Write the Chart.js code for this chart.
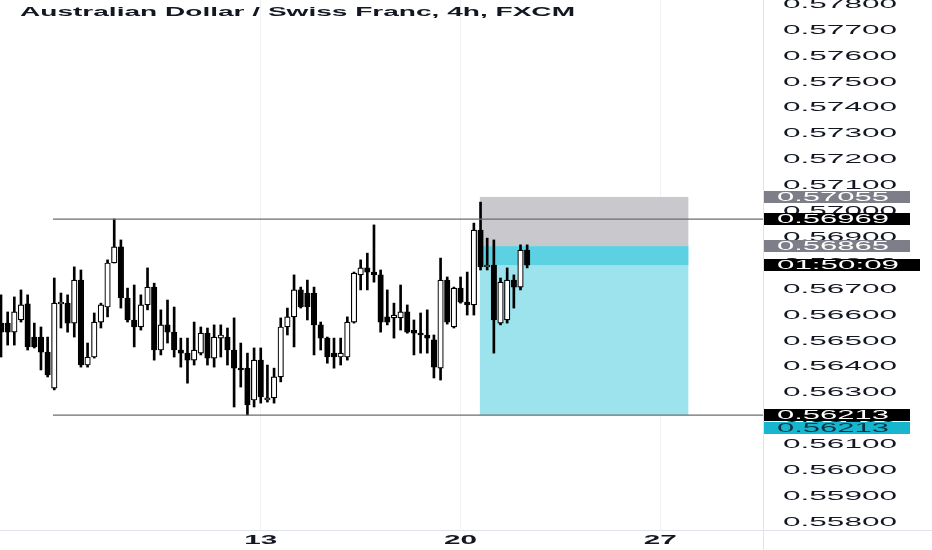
<!DOCTYPE html>
<html>
<head>
<meta charset="utf-8">
<script src="https://cdn.jsdelivr.net/npm/chart.js@4.4.1/dist/chart.umd.min.js"></script>
<style>
  html, body { margin: 0; padding: 0; background: #fff; }
</style>
</head>
<body>
<canvas id="chart" width="932" height="550"></canvas>
<script>
// ── Data ─────────────────────────────────────────────────────────────────
const title = 'Australian Dollar / Swiss Franc, 4h, FXCM';

const opens  = [0.56568,0.56568,0.56533,0.56580,0.56642,0.56514,0.56514,0.56456,0.56317,0.56642,
                0.56645,0.56568,0.56734,0.56406,0.56437,0.56572,0.56630,0.56800,0.56862,0.56665,
                0.56580,0.56553,0.56638,0.56707,0.56464,0.56561,0.56533,0.56464,0.56452,0.56425,
                0.56452,0.56529,0.56433,0.56510,0.56514,0.56464,0.56394,0.56394,0.56271,0.56425,
                0.56271,0.56279,0.56360,0.56553,0.56592,0.56696,0.56684,0.56684,0.56561,0.56510,
                0.56452,0.56437,0.56437,0.56572,0.56754,0.56781,0.56765,0.56754,0.56592,0.56588,
                0.56588,0.56611,0.56541,0.56529,0.56522,0.56503,0.56394,0.56734,0.56553,0.56703,
                0.56649,0.56638,0.56927,0.56785,0.56792,0.56568,0.56580,0.56734,0.56707,0.56850];
const highs  = [0.56677,0.56611,0.56669,0.56696,0.56677,0.56568,0.56553,0.56514,0.56742,0.56684,
                0.56677,0.56785,0.56773,0.56491,0.56607,0.56645,0.56812,0.56970,0.56889,0.56703,
                0.56715,0.56677,0.56781,0.56722,0.56619,0.56657,0.56630,0.56510,0.56510,0.56572,
                0.56553,0.56549,0.56561,0.56561,0.56549,0.56588,0.56491,0.56452,0.56472,0.56472,
                0.56406,0.56394,0.56588,0.56626,0.56754,0.56707,0.56734,0.56707,0.56572,0.56514,
                0.56510,0.56510,0.56592,0.56765,0.56812,0.56838,0.56947,0.56773,0.56696,0.56645,
                0.56715,0.56638,0.56580,0.56607,0.56619,0.56522,0.56819,0.56746,0.56707,0.56746,
                0.56765,0.56954,0.57035,0.56896,0.56889,0.56742,0.56781,0.56754,0.56870,0.56870];
const lows   = [0.56437,0.56483,0.56483,0.56572,0.56464,0.56472,0.56387,0.56360,0.56310,0.56549,
                0.56533,0.56514,0.56398,0.56398,0.56433,0.56549,0.56592,0.56800,0.56626,0.56572,
                0.56476,0.56541,0.56619,0.56425,0.56445,0.56491,0.56437,0.56398,0.56336,0.56406,
                0.56445,0.56406,0.56398,0.56437,0.56406,0.56244,0.56321,0.56213,0.56244,0.56259,
                0.56263,0.56259,0.56341,0.56522,0.56476,0.56626,0.56580,0.56445,0.56464,0.56413,
                0.56394,0.56406,0.56425,0.56568,0.56696,0.56696,0.56726,0.56533,0.56561,0.56510,
                0.56541,0.56529,0.56445,0.56452,0.56452,0.56356,0.56348,0.56564,0.56549,0.56645,
                0.56599,0.56599,0.56773,0.56773,0.56452,0.56561,0.56568,0.56626,0.56696,0.56781];
const closes = [0.56533,0.56533,0.56611,0.56638,0.56476,0.56476,0.56456,0.56368,0.56645,0.56649,
                0.56568,0.56734,0.56406,0.56437,0.56572,0.56638,0.56800,0.56862,0.56665,0.56580,
                0.56553,0.56638,0.56707,0.56464,0.56561,0.56533,0.56464,0.56452,0.56425,0.56464,
                0.56529,0.56433,0.56514,0.56522,0.56464,0.56394,0.56387,0.56252,0.56425,0.56283,
                0.56279,0.56360,0.56553,0.56592,0.56696,0.56630,0.56630,0.56561,0.56510,0.56437,
                0.56437,0.56452,0.56572,0.56761,0.56781,0.56765,0.56754,0.56572,0.56572,0.56599,
                0.56611,0.56533,0.56529,0.56522,0.56510,0.56398,0.56734,0.56572,0.56703,0.56649,
                0.56638,0.56927,0.56785,0.56792,0.56580,0.56726,0.56734,0.56707,0.56850,0.56792];

const dayTicks  = [39, 69, 99];
const dayLabels = ['13', '20', '27'];
const priceTicks = [0.578, 0.577, 0.576, 0.575, 0.574, 0.573, 0.572, 0.571, 0.570, 0.569, 0.568,
                    0.567, 0.566, 0.565, 0.564, 0.563, 0.562, 0.561, 0.560, 0.559, 0.558];

// horizontal levels drawn from candle 7.8 to the right edge
const levelPrices = [0.56969, 0.56213];
const levelStart  = 7.8;

// short position tool
const stopPrice   = 0.57055;
const entryPrice  = 0.56865;
const targetPrice = 0.56213;
const lastPrice   = 0.56792;
const positionFrom = 71.9;
const positionTo   = 103.2;

// price-axis tags
const tagTexts  = ['0.57055', '0.56969', '0.56865', '01:50:09', '0.56213', '0.56213'];
const tagPrices = [0.57055, 0.56969, 0.56865, 0.56792, 0.56213, 0.56213];

// ── Helpers ──────────────────────────────────────────────────────────────
const X_MIN = -0.15, X_MAX = 114.41;
const INK = '#131722';

// the screenshot is squeezed, so text comes out wide: stretch to a target width
function wideText(ctx, text, x, y, w, font, color, align) {
    ctx.save();
    ctx.font = font;
    ctx.fillStyle = color;
    ctx.textAlign = 'left';
    ctx.textBaseline = 'middle';
    const k = w / ctx.measureText(text).width;
    ctx.translate(align === 'left' ? x : x - w / 2, y);
    ctx.scale(k, 1);
    ctx.fillText(text, 0, 0);
    ctx.restore();
}

const overlay = {
    id: 'overlay',
    beforeDatasetsDraw(chart) {
        const { ctx, scales: { x, y } } = chart;
        const x1 = x.getPixelForValue(positionFrom), x2 = x.getPixelForValue(positionTo);
        const yStop = y.getPixelForValue(stopPrice), yEntry = y.getPixelForValue(entryPrice);
        const yTarget = y.getPixelForValue(targetPrice), yLast = y.getPixelForValue(lastPrice);
        ctx.save();
        ctx.fillStyle = '#c8c8cd';
        ctx.fillRect(x1, yStop, x2 - x1, yEntry - yStop);
        ctx.fillStyle = '#9ce3ee';
        ctx.fillRect(x1, yEntry, x2 - x1, yTarget - yEntry);
        ctx.fillStyle = '#5cd1e1';
        ctx.fillRect(x1, yEntry, x2 - x1, yLast - yEntry);
        ctx.restore();
    },
    afterDraw(chart) {
        const { ctx, chartArea: a, scales: { x, y } } = chart;
        ctx.save();
        // pane separators
        ctx.strokeStyle = '#e0e3eb';
        ctx.lineWidth = 1;
        ctx.beginPath();
        ctx.moveTo(0, a.bottom + 0.5); ctx.lineTo(chart.width, a.bottom + 0.5);
        ctx.moveTo(a.right + 0.5, 0);  ctx.lineTo(a.right + 0.5, chart.height);
        ctx.stroke();
        ctx.restore();

        // price scale labels
        priceTicks.forEach(v => {
            wideText(ctx, v.toFixed(5), 840, y.getPixelForValue(v) + 0.5, 114, '12px Arial', INK);
        });

        // tags on the price scale
        const tagStyle = [
            { bg: '#7e7e89', fg: '#ffffff', dy: 0,  right: 910 },
            { bg: '#000000', fg: '#ffffff', dy: 0,  right: 910 },
            { bg: '#7e7e89', fg: '#ffffff', dy: 0,  right: 910 },
            { bg: '#000000', fg: '#ffffff', dy: 0,  right: 920 },
            { bg: '#000000', fg: '#ffffff', dy: 0,  right: 910 },
            { bg: '#17b6cf', fg: '#0c3440', dy: 13, right: 910 }
        ];
        tagTexts.forEach((t, i) => {
            const s = tagStyle[i];
            const cy = Math.round(y.getPixelForValue(tagPrices[i])) + s.dy;
            ctx.fillStyle = s.bg;
            ctx.fillRect(a.right + 1, cy - 6, s.right - a.right - 1, 12);
            const w = s.right === 920 ? 122 : 112;
            wideText(ctx, t, a.right + 1 + (s.right - a.right - 1) / 2 - 4, cy + 0.5, w, '12px Arial', s.fg);
        });

        // time labels
        dayTicks.forEach((v, i) => {
            wideText(ctx, dayLabels[i], x.getPixelForValue(v), 541, 33, 'bold 12px Arial', INK);
        });

        // title
        wideText(ctx, title, 20, 12.5, 555, 'bold 12px Arial', INK, 'left');
    }
};

// ── Chart ────────────────────────────────────────────────────────────────
const ctx = document.getElementById('chart').getContext('2d');

const levelSets = levelPrices.map(p => ({
    type: 'line',
    data: [{ x: levelStart, y: p }, { x: X_MAX, y: p }],
    borderColor: '#6c6c6c',
    borderWidth: 1.2,
    pointRadius: 0,
    order: 0
}));

const chart = new Chart(ctx, {
    type: 'bar',
    data: {
        datasets: [
            {
                label: 'wicks',
                data: highs.map((h, i) => ({ x: i, y: [lows[i], h] })),
                backgroundColor: '#000000',
                borderWidth: 0,
                barThickness: 2,
                grouped: false,
                order: 2
            },
            {
                label: 'bodies',
                data: opens.map((o, i) => ({ x: i, y: [o, closes[i]] })),
                backgroundColor: opens.map((o, i) => closes[i] >= o ? '#ffffff' : '#000000'),
                borderColor: '#000000',
                borderWidth: 1.2,
                borderSkipped: false,
                barThickness: 5.5,
                grouped: false,
                order: 1
            },
            ...levelSets
        ]
    },
    options: {
        responsive: false,
        animation: false,
        devicePixelRatio: 1,
        layout: { padding: 0 },
        plugins: { legend: { display: false }, tooltip: { enabled: false } },
        scales: {
            x: {
                type: 'linear',
                min: X_MIN,
                max: X_MAX,
                offset: false,
                grid: { color: '#f0f2f6', drawTicks: false, offset: false },
                border: { display: false },
                ticks: { display: false },
                afterBuildTicks: s => { s.ticks = dayTicks.map(v => ({ value: v })); },
                afterFit: s => { s.height = 20; }
            },
            y: {
                position: 'right',
                min: 0.557691,
                max: 0.578154,
                grid: { display: false },
                border: { display: false },
                ticks: { display: false },
                afterFit: s => { s.width = 169; }
            }
        }
    },
    plugins: [overlay]
});
</script>
</body>
</html>
